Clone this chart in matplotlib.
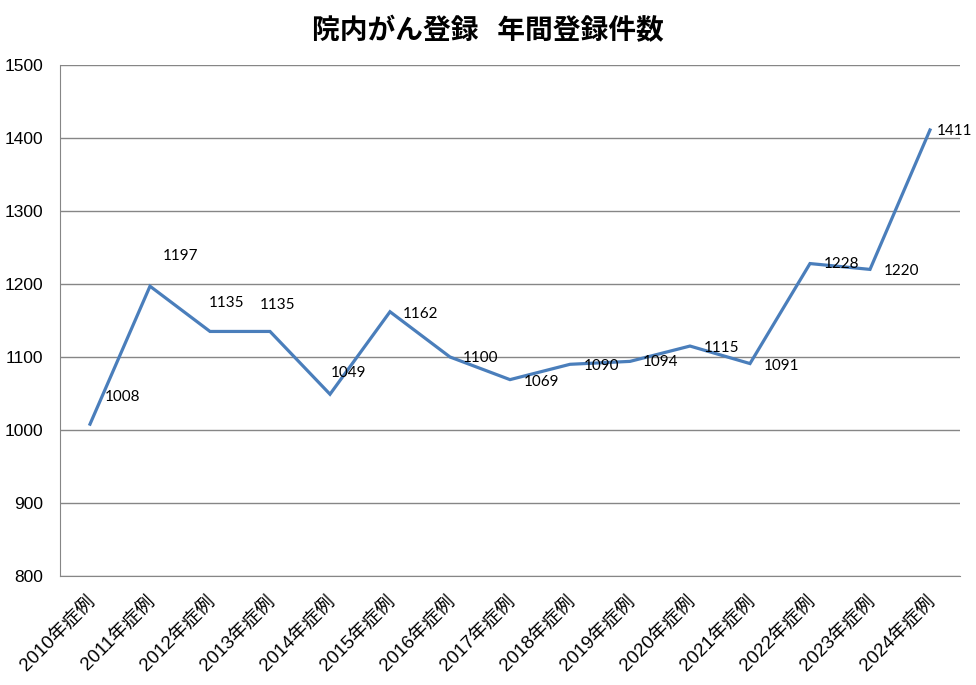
import matplotlib.pyplot as plt
from matplotlib.transforms import ScaledTranslation

years = ['2010年症例', '2011年症例', '2012年症例', '2013年症例', '2014年症例',
         '2015年症例', '2016年症例', '2017年症例', '2018年症例', '2019年症例',
         '2020年症例', '2021年症例', '2022年症例', '2023年症例', '2024年症例']
counts = [1008, 1197, 1135, 1135, 1049, 1162, 1100, 1069, 1090, 1094,
          1115, 1091, 1228, 1220, 1411]

# label offsets in pixels (label centre relative to point)
label_dx = [33, 31, 17, 8, 19, 31, 31, 32, 32, 31, 32, 32, 32, 32, 25]
label_dy = [27, 30, 28, 26, 21, -2, -1, -2, -2, -1, -2, -2, 0, -2, -1]

fig = plt.figure(figsize=(9.76, 6.85), dpi=100)
ax = fig.add_axes([60 / 976, (685 - 576) / 685, 900 / 976, 511 / 685])

x = list(range(len(years)))
ax.plot(x, counts, color='#4a7ebb', linewidth=2.3, solid_joinstyle='miter')

for i, v in enumerate(counts):
    ax.annotate(str(v), (i, v), xytext=(label_dx[i], label_dy[i]),
                textcoords='offset pixels', ha='center', va='center',
                fontsize=11, family=['Lato', 'DejaVu Sans'], color='black')

ax.set_xlim(-0.5, len(years) - 0.5)
ax.set_ylim(800, 1500)
ax.set_yticks(range(800, 1501, 100))
ax.set_yticklabels([str(v) for v in range(800, 1501, 100)],
                   family=['Liberation Sans'], fontsize=12.5)
ax.set_xticks(x)
ax.set_xticklabels(years, rotation=45, ha='right', va='top',
                   rotation_mode='anchor',
                   family=['Liberation Sans', 'Noto Sans CJK JP'], fontsize=13.5)
ax.tick_params(axis='both', length=0)
ax.tick_params(axis='y', pad=12)
ax.tick_params(axis='x', pad=12)
shift = ScaledTranslation(-3 / 100, 0, fig.dpi_scale_trans)
for lbl in ax.get_xticklabels():
    lbl.set_transform(lbl.get_transform() + shift)

ax.grid(axis='y', color='#868686', linewidth=1)
ax.set_axisbelow(True)
for s in ['top', 'right']:
    ax.spines[s].set_visible(False)
ax.spines['left'].set_color('#868686')
ax.spines['bottom'].set_color('#868686')

fig.suptitle('院内がん登録   年間登録件数', y=0.975, fontsize=20, fontweight='bold',
             family=['Noto Sans CJK JP'])

fig.savefig('out.png', dpi=100)
